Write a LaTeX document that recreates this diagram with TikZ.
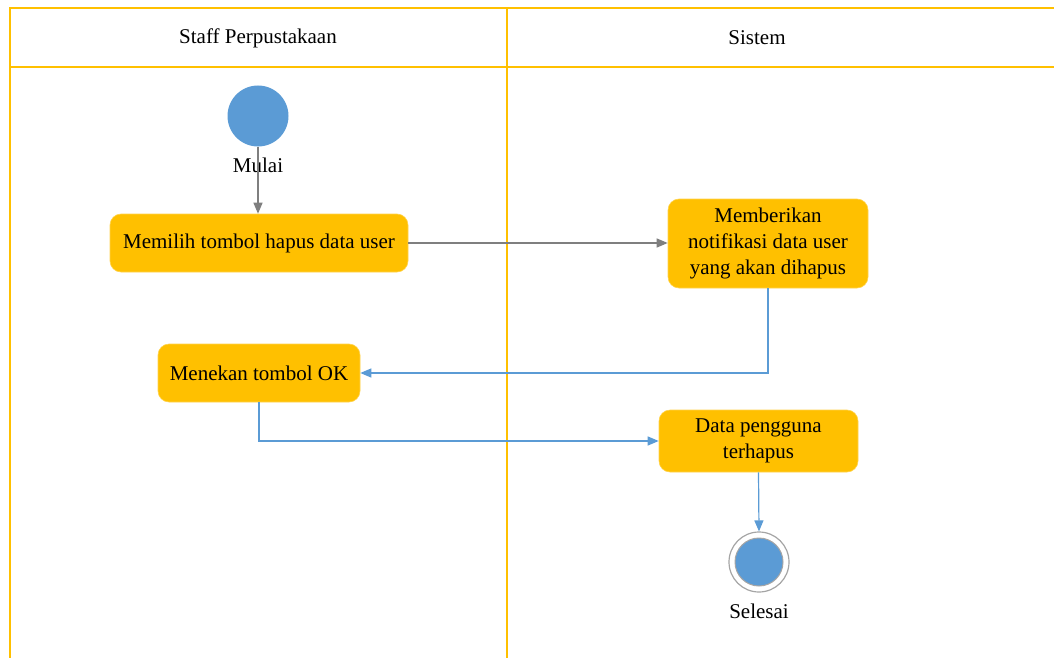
\documentclass[tikz,border=0pt]{standalone}
\usepackage{fontspec}
\setmainfont{Liberation Serif}
\usetikzlibrary{arrows.meta}
\definecolor{laneline}{HTML}{FFC000}
\definecolor{actfill}{HTML}{FFC000}
\definecolor{flowblue}{HTML}{5B9BD5}
\definecolor{flowgray}{HTML}{7F7F7F}
\definecolor{ringgray}{HTML}{A5A5A5}

\begin{document}
\begin{tikzpicture}[x=1pt,y=-1pt,
  font=\fontsize{21}{26}\selectfont,
  lane/.style={draw=laneline,line width=2pt},
  action/.style={fill=actfill,draw=actfill!70!white,line width=0.6pt,rounded corners=11pt,
    inner sep=0pt,align=center},
  tip/.style={-{Triangle[length=11pt,width=9pt]}},
  grayflow/.style={tip,draw=flowgray,line width=1.2pt},
  blueflow/.style={tip,draw=flowblue,line width=1.2pt}]

\useasboundingbox (0,0) rectangle (1054,658);

% swimlanes
\draw[lane] (1054,8) -- (10,8) -- (10,658);
\draw[lane] (10,67) -- (1054,67);
\draw[lane] (507,8) -- (507,658);
\node (laneA) at (258,38) {Staff Perpustakaan};
\node (laneB) at (757,38) {Sistem};

% start
\node[circle,fill=flowblue,minimum size=61pt,inner sep=0pt] (start) at (258,116) {};
\node (startlbl) at (258,165) {Mulai};

% actions
\node[action,minimum width=298pt,minimum height=58pt] (act1) at (259,243) {Memilih tombol hapus data user};
\node[action,minimum width=200pt,minimum height=89pt] (act2) at (768,243.5) {Memberikan\\notifikasi data user\\yang akan dihapus};
\node[action,minimum width=202pt,minimum height=58pt] (act3) at (259,373) {Menekan tombol OK};
\node[action,minimum width=199pt,minimum height=62pt] (act4) at (758.5,441) {Data pengguna\\terhapus};

% end
\node[circle,draw=ringgray,fill=white,line width=1.2pt,minimum size=60pt,inner sep=0pt] (stop) at (759,562) {};
\node[circle,draw=ringgray,fill=flowblue,line width=1pt,minimum size=48pt,inner sep=0pt] (stopcore) at (759,562) {};
\node (stoplbl) at (759,611) {Selesai};

% flows
\draw[grayflow] (start.south) -- (start |- act1.north);
\draw[grayflow] (act1.east) -- (act2.west |- act1.east);
\draw[blueflow] (act2.south) |- (act3.east);
\draw[blueflow] (act3.south) |- (act4.west);
\draw[blueflow] (act4.south) -- (stop.north);
\end{tikzpicture}
\end{document}
